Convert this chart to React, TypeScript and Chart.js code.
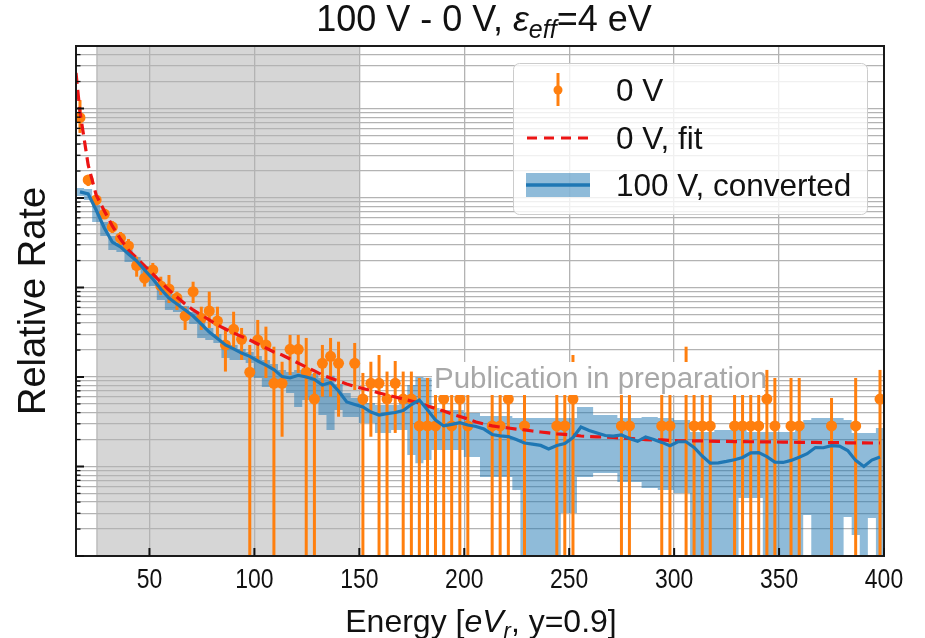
import React, { useEffect, useRef } from 'react';
import { Chart, registerables } from 'chart.js';

Chart.register(...registerables);

const FONT = "'Liberation Sans', Arial, Helvetica, sans-serif";
const ORANGE = 'rgb(255,127,14)';
const BLUE = '#1f77b4';
const BAND = 'rgba(31,119,180,0.5)';
const RED = 'rgb(236,20,20)';
const GRID = '#b3b3b3';

// axis ranges
const X_MIN = 15;
const X_MAX = 400;
const Y_MIN = 1e-4;
const Y_MAX = 49.9;
const shadedRange = [25, 150];
const xTickValues = [50, 100, 150, 200, 250, 300, 350, 400];

// energy bin centres [eV_r]
const energy = [
  16.9, 20.8, 24.6, 28.5, 32.3, 36.2, 40.0, 43.9, 47.7, 51.6,
  55.4, 59.3, 63.1, 67.0, 70.8, 74.7, 78.5, 82.4, 86.2, 90.1,
  93.9, 97.8, 101.6, 105.5, 109.3, 113.2, 117.0, 120.9, 124.7, 128.6,
  132.4, 136.3, 140.1, 144.0, 147.8, 151.7, 155.5, 159.4, 163.2, 167.1,
  170.9, 174.8, 178.6, 182.5, 186.3, 190.2, 194.0, 197.9, 201.7, 205.6,
  209.4, 213.3, 217.1, 221.0, 224.8, 228.7, 232.5, 236.4, 240.2, 244.1,
  247.9, 251.8, 255.6, 259.5, 263.3, 267.2, 271.0, 274.9, 278.7, 282.6,
  286.4, 290.3, 294.1, 298.0, 301.8, 305.7, 309.5, 313.4, 317.2, 321.1,
  324.9, 328.8, 332.6, 336.5, 340.3, 344.2, 348.0, 351.9, 355.7, 359.6,
  363.4, 367.3, 371.1, 375.0, 378.8, 382.7, 386.5, 390.4, 394.2, 398.1,
];

// 0 V measured rate and error-bar ends (0 = bar reaches zero)
const rate0V = [
  7.89, 1.59, 0.95, 0.662, 0.474, 0.357, 0.291, 0.176, 0.127, 0.157,
  0.104, 0.0962, 0.0763, 0.0481, 0.0898, 0.0453, 0.0546, 0.0422, 0.0228, 0.0341,
  0.0264, 0.0113, 0.0259, 0.0228, 0.0085, 0.0085, 0.0204, 0.0204, 0.0113, 0.00567,
  0.0142, 0.017, 0.0142, null, 0.0142, 0.00567, 0.0085, 0.0085, 0.00567, 0.0085,
  0.00567, 0.00567, 0.00284, 0.00284, 0.00284, 0.00567, 0.00284, 0.00567, 0.00284, null,
  null, 0.00284, 0.00284, 0.00567, null, 0.00284, null, null, null, 0.00284,
  0.00284, 0.00567, null, null, null, null, null, 0.00284, 0.00284, null,
  null, null, 0.00284, 0.00284, null, 0.0085, 0.00284, 0.00284, 0.00284, null,
  null, 0.00284, 0.00284, 0.00284, 0.00284, 0.00567, 0.00284, null, 0.00284, 0.00284,
  null, null, null, 0.00284, null, null, 0.00284, null, null, 0.00567,
];
const rate0VHigh = [
  12.4, 1.81, 1.08, 0.754, 0.553, 0.417, 0.348, 0.221, 0.157, 0.188,
  0.132, 0.138, 0.0898, 0.061, 0.116, 0.061, 0.0898, 0.061, 0.0335, 0.0536,
  0.0353, 0.0228, 0.0434, 0.0365, 0.0218, 0.0148, 0.0295, 0.0295, 0.0273, 0.0111,
  0.0228, 0.0273, 0.0248, null, 0.024, 0.0111, 0.0148, 0.0176, 0.0115, 0.0151,
  0.0115, 0.0115, 0.00975, 0.00975, 0.00975, 0.0143, 0.00975, 0.0143, 0.00975, null,
  null, 0.00975, 0.00975, 0.0143, null, 0.00975, null, null, null, 0.00975,
  0.00975, 0.0176, null, null, null, null, null, 0.00975, 0.00975, null,
  null, null, 0.00975, 0.00975, null, 0.0218, 0.00975, 0.00975, 0.00975, null,
  null, 0.00975, 0.00975, 0.00975, 0.00975, 0.012, 0.00975, null, 0.00975, 0.00975,
  null, null, null, 0.00583, null, null, 0.00975, null, null, 0.012,
];
const rate0VLow = [
  5.33, 1.36, 0.835, 0.583, 0.406, 0.299, 0.237, 0.132, 0.102, 0.121,
  0.0825, 0.0671, 0.0561, 0.0335, 0.0671, 0.0335, 0.0353, 0.0259, 0.0115, 0.02,
  0.0155, 0, 0.0148, 0.00975, 0, 0.00215, 0.0105, 0.0111, 0, 0,
  0.00603, 0.00603, 0.0036, null, 0.00716, 0, 0.00215, 0, 0, 0.00237,
  0, 0, 0, 0, 0, 0, 0, 0, 0, null,
  null, 0, 0, 0, null, 0, null, null, null, 0,
  0, 0, null, null, null, null, null, 0, 0, null,
  null, null, 0, 0, null, 0, 0, 0, 0, null,
  null, 0, 0, 0, 0, 0, 0, null, 0, 0,
  null, null, null, 0, null, null, 0, null, null, 0,
];

// 0 V fit (first value at the lower edge, 15 eV)
const fitStartEnergy = 15;
const fitRate = [
  24.9, 9.14, 2.34, 1.08, 0.716, 0.487, 0.348, 0.262, 0.214, 0.174, 0.1415,
  0.115, 0.0938, 0.0783, 0.0654, 0.0561, 0.0493, 0.0434, 0.0381, 0.0344, 0.031,
  0.0284, 0.0259, 0.0234, 0.0211, 0.019, 0.0176, 0.0159, 0.0143, 0.0129, 0.0117,
  0.0105, 0.00975, 0.00902, 0.00835, 0.00783, 0.00744, 0.00707, 0.00663, 0.0063, 0.00598,
  0.00568, 0.00539, 0.00512, 0.00474, 0.00445, 0.00417, 0.00386, 0.00362, 0.0034, 0.00314,
  0.00299, 0.00284, 0.00276, 0.00269, 0.00262, 0.00256, 0.00249, 0.00243, 0.00237, 0.00231,
  0.00228, 0.00225, 0.00219, 0.00216, 0.00214, 0.00214, 0.00211, 0.00208, 0.00206, 0.00203,
  0.002, 0.00198, 0.00198, 0.00195, 0.00194, 0.00194, 0.00193, 0.00193, 0.00192, 0.00191,
  0.00191, 0.0019, 0.0019, 0.00189, 0.00189, 0.00188, 0.00188, 0.00187, 0.00187, 0.00186,
  0.00186, 0.00186, 0.00185, 0.00185, 0.00185, 0.00184, 0.00184, 0.00184, 0.00183, 0.00183,
];

// 100 V converted rate with its band
const conv100V = [
  1.17, 1.11, 0.734, 0.462, 0.322, 0.284, 0.237, 0.198, 0.157, 0.1245,
  0.0962, 0.0763, 0.0654, 0.0561, 0.048, 0.0391, 0.0318, 0.0269, 0.0228, 0.0206,
  0.0185, 0.017, 0.0151, 0.0136, 0.0121, 0.0101, 0.00975, 0.01045, 0.01, 0.00938,
  0.00814, 0.00868, 0.00698, 0.00526, 0.00493, 0.00462, 0.00406, 0.00376, 0.00389, 0.00401,
  0.00422, 0.00493, 0.00553, 0.00428, 0.00331, 0.00284, 0.00295, 0.00308, 0.00291, 0.0028,
  0.00262, 0.00228, 0.0022, 0.00216, 0.002, 0.00183, 0.00178, 0.00172, 0.00157, 0.00172,
  0.00181, 0.00211, 0.00276, 0.00253, 0.00237, 0.00222, 0.00218, 0.00225, 0.00206, 0.00191,
  0.00214, 0.002, 0.00186, 0.00171, 0.00189, 0.00189, 0.00163, 0.00131, 0.00109, 0.0011,
  0.00114, 0.00119, 0.00126, 0.00142, 0.00143, 0.00129, 0.00112, 0.00111, 0.00117, 0.00127,
  0.00139, 0.00163, 0.00162, 0.00171, 0.00169, 0.00151, 0.00117, 0.001, 0.00118, 0.00128,
];
const conv100VHigh = [
  1.29, 1.26, 0.835, 0.539, 0.376, 0.314, 0.262, 0.219, 0.174, 0.138,
  0.107, 0.0846, 0.0725, 0.0621, 0.0533, 0.0434, 0.0353, 0.0302, 0.0253, 0.0228,
  0.0206, 0.019, 0.0172, 0.0155, 0.014, 0.012, 0.0114, 0.012, 0.0114, 0.0108,
  0.00975, 0.0103, 0.00835, 0.00663, 0.00583, 0.00553, 0.00512, 0.00487, 0.00487, 0.00487,
  0.00526, 0.00814, 0.01, 0.00975, 0.0045, 0.00428, 0.00428, 0.00428, 0.00396, 0.00396,
  0.00367, 0.00367, 0.00367, 0.00367, 0.00348, 0.00348, 0.00348, 0.00348, 0.00348, 0.00348,
  0.00348, 0.00348, 0.00462, 0.00462, 0.00376, 0.00376, 0.00376, 0.00348, 0.00348, 0.00348,
  0.00357, 0.00357, 0.00348, 0.00348, 0.00331, 0.00331, 0.00243, 0.00243, 0.00243, 0.00256,
  0.00256, 0.00256, 0.00256, 0.00243, 0.00243, 0.00243, 0.00243, 0.00243, 0.00243, 0.00256,
  0.00331, 0.00348, 0.00348, 0.00348, 0.00348, 0.00331, 0.00237, 0.00237, 0.00237, 0.00269,
];
const conv100VLow = [
  1.05, 0.95, 0.539, 0.376, 0.262, 0.249, 0.193, 0.157, 0.128, 0.104,
  0.0725, 0.0561, 0.0533, 0.0434, 0.0391, 0.0273, 0.0259, 0.024, 0.0163, 0.0155,
  0.0155, 0.0143, 0.00975, 0.00773, 0.00814, 0.00814, 0.00663, 0.00462, 0.00553, 0.0063,
  0.00376, 0.00256, 0.00428, 0.00357, 0.00357, 0.00306, 0.00306, 0.00237, 0.00237, 0.00256,
  0.00256, 0.00134, 0.00109, 0.00118, 0.00153, 0.00153, 0.00153, 0.00153, 0.00128, 0.00128,
  0.000763, 0.000763, 0.000763, 0.000763, 0.000546, 1e-6, 1e-6, 1e-6, 1e-6, 1e-6,
  0.000302, 0.000302, 0.000763, 0.000763, 0.000846, 0.000846, 0.000846, 0.000671, 0.000671, 0.000671,
  0.000575, 0.000575, 0.000546, 0.000546, 0.000506, 0.000506, 1e-6, 1e-6, 1e-6, 1e-6,
  1e-6, 1e-6, 0.000445, 0.000445, 0.000445, 1e-6, 1e-6, 1e-6, 1e-6, 1e-6,
  0.000287, 1e-6, 1e-6, 1e-6, 1e-6, 0.000273, 0.000172, 1e-6, 0.000266, 1e-6,
];

const legendLabels = ['0 V', '0 V, fit', '100 V, converted'];

type Run = { t: string; it?: boolean; sub?: boolean };

function runFont(r: Run, size: number) {
  return `${r.it ? 'italic ' : ''}${r.sub ? Math.round(size * 0.7) : size}px ${FONT}`;
}

function drawRuns(ctx: CanvasRenderingContext2D, runs: Run[], size: number, cx: number, baseline: number) {
  let total = 0;
  const widths = runs.map((r) => {
    ctx.font = runFont(r, size);
    const w = ctx.measureText(r.t).width;
    total += w;
    return w;
  });
  let x = cx - total / 2;
  ctx.textAlign = 'left';
  ctx.textBaseline = 'alphabetic';
  runs.forEach((r, i) => {
    ctx.font = runFont(r, size);
    ctx.fillText(r.t, x, baseline + (r.sub ? size * 0.2 : 0));
    x += widths[i];
  });
}

function yGridValues() {
  const vals: { value: number; major: boolean }[] = [];
  for (let e = -4; e <= 1; e++) {
    for (let m = 1; m <= 9; m++) {
      const v = m * Math.pow(10, e);
      if (v >= Y_MIN * 0.999 && v <= Y_MAX) vals.push({ value: v, major: m === 1 });
    }
  }
  return vals;
}

const shadePlugin = {
  id: 'shade',
  beforeDraw(chart: any) {
    const { ctx, chartArea } = chart;
    const xs = chart.scales.x;
    const x0 = xs.getPixelForValue(shadedRange[0]);
    const x1 = xs.getPixelForValue(shadedRange[1]);
    ctx.save();
    ctx.fillStyle = '#d6d6d6';
    ctx.fillRect(x0, chartArea.top, x1 - x0, chartArea.bottom - chartArea.top);
    ctx.strokeStyle = '#bdbdbd';
    ctx.lineWidth = 1.5;
    ctx.beginPath();
    ctx.moveTo(x0, chartArea.top);
    ctx.lineTo(x0, chartArea.bottom);
    ctx.stroke();
    ctx.restore();
  },
};

const errorBarPlugin = {
  id: 'errbars',
  beforeDatasetDraw(chart: any, args: any) {
    if (args.index !== 2) return;
    const { ctx, chartArea } = chart;
    const xs = chart.scales.x;
    const ys = chart.scales.y;
    ctx.save();
    ctx.beginPath();
    ctx.rect(chartArea.left, chartArea.top, chartArea.right - chartArea.left, chartArea.bottom - chartArea.top);
    ctx.clip();
    ctx.strokeStyle = ORANGE;
    ctx.lineWidth = 3;
    for (let i = 0; i < energy.length; i++) {
      if (rate0V[i] == null) continue;
      const px = xs.getPixelForValue(energy[i]);
      const top = ys.getPixelForValue(rate0VHigh[i] as number);
      const low = rate0VLow[i] as number;
      const bot = low > 0 ? ys.getPixelForValue(low) : chartArea.bottom + 4;
      ctx.beginPath();
      ctx.moveTo(px, top);
      ctx.lineTo(px, bot);
      ctx.stroke();
    }
    ctx.restore();
  },
};

const decorPlugin = {
  id: 'decor',
  afterDraw(chart: any) {
    const { ctx, chartArea } = chart;
    const xs = chart.scales.x;
    const ys = chart.scales.y;
    const { left, right, top, bottom } = chartArea;
    ctx.save();

    // frame
    ctx.strokeStyle = '#1a1a1a';
    ctx.lineWidth = 2;
    ctx.strokeRect(left, top, right - left, bottom - top);

    // inward ticks
    ctx.strokeStyle = '#111';
    yGridValues().forEach((t) => {
      const py = ys.getPixelForValue(t.value);
      ctx.lineWidth = t.major ? 2 : 1.3;
      ctx.beginPath();
      ctx.moveTo(left, py);
      ctx.lineTo(left + (t.major ? 8 : 4.5), py);
      ctx.stroke();
    });
    xTickValues.forEach((v) => {
      const px = xs.getPixelForValue(v);
      ctx.lineWidth = 2;
      ctx.beginPath();
      ctx.moveTo(px, bottom);
      ctx.lineTo(px, bottom - 8);
      ctx.stroke();
    });

    // tick labels (slightly condensed like the reference)
    ctx.fillStyle = '#111';
    ctx.font = `27px ${FONT}`;
    ctx.textAlign = 'center';
    ctx.textBaseline = 'alphabetic';
    xTickValues.forEach((v) => {
      const px = xs.getPixelForValue(v);
      ctx.save();
      ctx.translate(px, bottom + 32);
      ctx.scale(0.85, 1);
      ctx.fillText(String(v), 0, 0);
      ctx.restore();
    });

    // title
    drawRuns(ctx, [
      { t: '100 V - 0 V, ' },
      { t: 'ε', it: true },
      { t: 'eff', it: true, sub: true },
      { t: '=4 eV' },
    ], 36, (left + right) / 2 + 4, 31);

    // x label
    drawRuns(ctx, [
      { t: 'Energy [' },
      { t: 'eV', it: true },
      { t: 'r', it: true, sub: true },
      { t: ', y=0.9]' },
    ], 32, (left + right) / 2 + 1, 632);

    // y label
    ctx.save();
    ctx.translate(45, (top + bottom) / 2);
    ctx.rotate(-Math.PI / 2);
    drawRuns(ctx, [{ t: 'Relative Rate' }], 38, 0, 0);
    ctx.restore();

    // watermark
    ctx.fillStyle = '#ffffff';
    ctx.fillRect(432, 362, 332, 33);
    ctx.fillStyle = '#a8a8a8';
    ctx.font = `29.5px ${FONT}`;
    ctx.textAlign = 'left';
    ctx.fillText('Publication in preparation', 434, 388);

    // legend
    const lx = 513.5, ly = 63.5, lw = 354, lh = 151, r = 6;
    ctx.beginPath();
    ctx.moveTo(lx + r, ly);
    ctx.arcTo(lx + lw, ly, lx + lw, ly + lh, r);
    ctx.arcTo(lx + lw, ly + lh, lx, ly + lh, r);
    ctx.arcTo(lx, ly + lh, lx, ly, r);
    ctx.arcTo(lx, ly, lx + lw, ly, r);
    ctx.closePath();
    ctx.fillStyle = 'rgba(255,255,255,0.8)';
    ctx.fill();
    ctx.strokeStyle = '#cccccc';
    ctx.lineWidth = 1;
    ctx.stroke();

    const rows = [90, 138, 185];
    const gx = 558;
    // errorbar glyph
    ctx.strokeStyle = ORANGE;
    ctx.lineWidth = 3;
    ctx.beginPath();
    ctx.moveTo(gx, rows[0] - 17);
    ctx.lineTo(gx, rows[0] + 16);
    ctx.stroke();
    ctx.fillStyle = ORANGE;
    ctx.beginPath();
    ctx.arc(gx, rows[0], 4.5, 0, Math.PI * 2);
    ctx.fill();
    // dashed fit glyph
    ctx.strokeStyle = RED;
    ctx.lineWidth = 3;
    ctx.setLineDash([10, 7]);
    ctx.beginPath();
    ctx.moveTo(527, rows[1]);
    ctx.lineTo(591, rows[1]);
    ctx.stroke();
    ctx.setLineDash([]);
    // band + line glyph
    ctx.fillStyle = BAND;
    ctx.fillRect(526, rows[2] - 12, 64, 24);
    ctx.strokeStyle = BLUE;
    ctx.lineWidth = 3.3;
    ctx.beginPath();
    ctx.moveTo(526, rows[2]);
    ctx.lineTo(590, rows[2]);
    ctx.stroke();

    ctx.fillStyle = '#111';
    ctx.font = `31.5px ${FONT}`;
    ctx.textAlign = 'left';
    ctx.textBaseline = 'alphabetic';
    legendLabels.forEach((lab, i) => {
      ctx.fillText(lab, 616, rows[i] + 11);
    });

    ctx.restore();
  },
};

export default function App() {
  const canvasRef = useRef<HTMLCanvasElement | null>(null);

  useEffect(() => {
    const canvas = canvasRef.current;
    if (!canvas) return;

    const stepData = (vals: number[]) => [
      { x: X_MIN, y: vals[0] },
      ...energy.map((e, i) => ({ x: e, y: vals[i] })),
      { x: X_MAX, y: vals[vals.length - 1] },
    ];

    const chart = new Chart(canvas, {
      type: 'line',
      data: {
        datasets: [
          {
            label: 'band high',
            data: stepData(conv100VHigh),
            borderWidth: 0,
            borderColor: 'rgba(0,0,0,0)',
            pointRadius: 0,
            stepped: 'middle',
            fill: false,
            order: 4,
          },
          {
            label: 'band low',
            data: stepData(conv100VLow),
            borderWidth: 0,
            borderColor: 'rgba(0,0,0,0)',
            backgroundColor: BAND,
            pointRadius: 0,
            stepped: 'middle',
            fill: '-1',
            order: 3,
          },
          {
            label: legendLabels[0],
            data: energy.map((e, i) => ({ x: e, y: rate0V[i] })),
            showLine: false,
            pointRadius: 5.5,
            pointBackgroundColor: ORANGE,
            pointBorderColor: ORANGE,
            pointBorderWidth: 0,
            order: 2,
          },
          {
            label: legendLabels[1],
            data: [{ x: fitStartEnergy, y: fitRate[0] }, ...energy.map((e, i) => ({ x: e, y: fitRate[i + 1] }))],
            borderColor: RED,
            borderWidth: 3.2,
            borderDash: [11, 6],
            pointRadius: 0,
            fill: false,
            order: 1,
          },
          {
            label: legendLabels[2],
            data: energy.map((e, i) => ({ x: e, y: conv100V[i] })),
            borderColor: BLUE,
            borderWidth: 3.2,
            pointRadius: 0,
            fill: false,
            order: 0,
          },
        ],
      },
      options: {
        animation: false,
        responsive: false,
        devicePixelRatio: 1,
        layout: { padding: { left: 76, top: 46, right: 41, bottom: 82 } },
        plugins: {
          legend: { display: false },
          tooltip: { enabled: false },
          title: { display: false },
        },
        scales: {
          x: {
            type: 'linear',
            min: X_MIN,
            max: X_MAX,
            afterBuildTicks: (scale: any) => {
              scale.ticks = xTickValues.map((v) => ({ value: v }));
            },
            ticks: { display: false, autoSkip: false },
            grid: { color: GRID, lineWidth: 1.3, drawTicks: false },
            border: { display: false },
          },
          y: {
            type: 'logarithmic',
            min: Y_MIN,
            max: Y_MAX,
            afterBuildTicks: (scale: any) => {
              scale.ticks = yGridValues().map((t) => ({ value: t.value, major: t.major }));
            },
            ticks: { display: false, autoSkip: false },
            grid: { color: GRID, lineWidth: 1.3, drawTicks: false },
            border: { display: false },
          },
        },
      },
      plugins: [shadePlugin, errorBarPlugin, decorPlugin],
    } as any);

    return () => chart.destroy();
  }, []);

  return (
    <div style={{ position: 'fixed', left: 0, top: 0, width: 925, height: 638, background: '#fff' }}>
      <canvas ref={canvasRef} width={925} height={638} style={{ display: 'block' }} />
    </div>
  );
}
